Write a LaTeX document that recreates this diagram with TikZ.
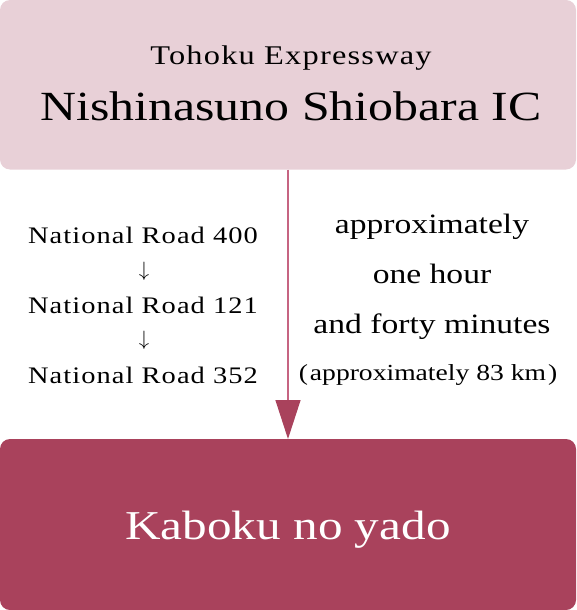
\documentclass[tikz,border=0pt]{standalone}
\usepackage{fontspec}
\setmainfont{Liberation Serif}[FakeStretch=1.2]
\newfontfamily\trackfont{Liberation Serif}[FakeStretch=1.2,LetterSpace=4.5]
\usetikzlibrary{arrows.meta,positioning}
\definecolor{icpink}{RGB}{232,208,215}
\definecolor{yadored}{RGB}{169,66,92}
\definecolor{routeline}{RGB}{198,100,130}

\begin{document}
\begin{tikzpicture}[x=1pt,y=-1pt,
    box/.style={rounded corners=10pt, minimum width=576pt, inner sep=0pt, outer sep=0pt},
    road/.style={anchor=base, font=\trackfont\fontsize{23.7}{26}\selectfont},
    downarrow/.style={inner sep=0pt, font=\fontsize{20}{22}\selectfont},
    timetext/.style={anchor=base, font=\fontsize{28}{30}\selectfont}]
    \useasboundingbox (0,0) rectangle (576,610);

    % Start and goal boxes
    \node[box, fill=icpink, minimum height=169.5pt] (ic) at (288,84.75) {};
    \node[box, fill=yadored, minimum height=171pt] (yado) at (288,524.5) {};

    % Text of the boxes - placed on their baselines
    \node[anchor=base, font=\trackfont\fontsize{27}{30}\selectfont] (expressway) at (291,65) {Tohoku Expressway};
    \node[anchor=base, font=\fontsize{41.5}{44}\selectfont] (icname) at (291,120.7) {Nishinasuno Shiobara IC};
    \node[anchor=base, text=white, font=\fontsize{41}{44}\selectfont] (yadoname) at (288,539) {Kaboku no yado};

    % Route between them
    \draw[routeline, line width=1.3pt, -{Triangle[width=25pt,length=39pt,color=yadored]}] (ic.south) -- (yado.north);

    % Roads on the left
    \node[road] (road400) at (143,243.3) {National Road 400};
    \node[road] (road121) at (143,313.3) {National Road 121};
    \node[road] (road352) at (143,383.3) {National Road 352};
    \node[downarrow] (down1) at (144,271.7) {$\downarrow$};
    \node[downarrow] (down2) at (144,340.5) {$\downarrow$};

    % Time and distance on the right
    \node[timetext] (time1) at (432,233.3) {approximately};
    \node[timetext] (time2) at (432,283.3) {one hour};
    \node[timetext] (time3) at (432,333.3) {and forty minutes};
    \node[anchor=base, font=\fontsize{23}{25}\selectfont] (distance) at (428,380) {(\hspace{2pt}approximately 83 km\hspace{2pt})};
\end{tikzpicture}
\end{document}
